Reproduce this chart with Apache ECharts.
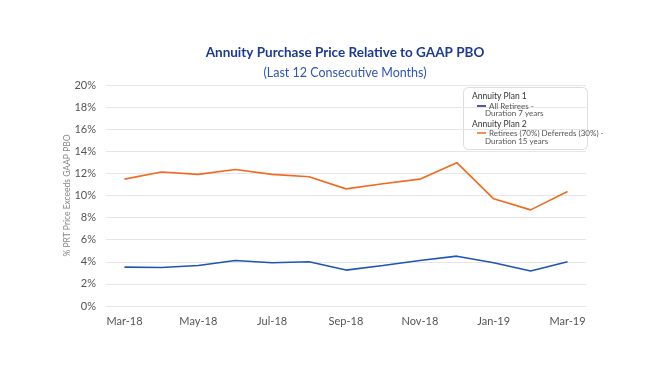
<!DOCTYPE html>
<html><head><meta charset="utf-8">
<script src="https://cdn.jsdelivr.net/npm/echarts@6/dist/echarts.min.js"></script>
<style>html,body{margin:0;padding:0;background:#fff;}#c{width:650px;height:366px;}</style>
</head><body><div id="c"></div>
<script>
const categories = ['Mar-18','Apr-18','May-18','Jun-18','Jul-18','Aug-18','Sep-18','Oct-18','Nov-18','Dec-18','Jan-19','Feb-19','Mar-19'];
const plan1 = [3.52, 3.49, 3.67, 4.12, 3.91, 4.0, 3.25, 3.67, 4.12, 4.51, 3.91, 3.16, 4.0];
const plan2 = [11.48, 12.12, 11.91, 12.36, 11.91, 11.7, 10.6, 11.06, 11.48, 12.97, 9.7, 8.7, 10.36];
const seriesNames = ['All Retirees -', 'Retirees (70%) Deferreds (30%) -'];
const seriesSub = ['Duration 7 years', 'Duration 15 years'];
const groupNames = ['Annuity Plan 1', 'Annuity Plan 2'];
const titleText = 'Annuity Purchase Price Relative to GAAP PBO';
const subText = '(Last 12 Consecutive Months)';
const yName = '% PRT Price Exceeds GAAP PBO';

const chart = echarts.init(document.getElementById('c'), null, {renderer:'canvas'});
const F = 'Lato, "Open Sans", sans-serif';
chart.setOption({
  backgroundColor: '#fff',
  animation: false,
  title: {
    text: titleText, subtext: subText, left: 340, textAlign: 'center', top: 41, itemGap: 6,
    textStyle: {fontFamily: F, fontSize: 13.5, fontWeight: 'bold', color: '#1c3a94'},
    subtextStyle: {fontFamily: F, fontSize: 12.5, color: '#2f56b0'}
  },
  grid: {left: 106, right: 64, top: 85, bottom: 60},
  xAxis: {
    type: 'category', data: categories, boundaryGap: true,
    axisLine: {show: true, lineStyle: {color: '#e6e6e6'}},
    axisTick: {show: false},
    axisLabel: {interval: 1, color: '#555', fontFamily: F, fontSize: 11, margin: 10}
  },
  yAxis: {
    type: 'value', min: 0, max: 20, interval: 2,
    name: yName, nameLocation: 'middle', nameGap: 34, nameRotate: 90, nameMoveOverlap: false,
    nameTextStyle: {color: '#888', fontFamily: F, fontSize: 8.5},
    axisLine: {show: false}, axisTick: {show: false},
    axisLabel: {formatter: '{value}%', color: '#555', fontFamily: F, fontSize: 11, margin: 10},
    splitLine: {lineStyle: {color: '#e6e6e6', width: 1}}
  },
  legend: {
    orient: 'vertical', left: 472, top: 97, itemGap: 19,
    icon: 'rect', itemWidth: 9, itemHeight: 1.5,
    textStyle: {fontFamily: F, fontSize: 8, color: '#555', padding: [0,0,0,-2]},
    data: [{name: seriesNames[0], itemStyle: {color: '#16237a'}}, {name: seriesNames[1], itemStyle: {color: '#f26a21'}}]
  },
  graphic: [
    {type: 'rect', left: 463, top: 87, shape: {width: 124, height: 62, r: 5}, style: {fill: '#fff', stroke: '#ddd', lineWidth: 1}, z: -1},
    {type: 'text', left: 472, top: 92, style: {text: groupNames[0], font: '8.5px ' + F, fill: '#333'}},
    {type: 'text', left: 485, top: 109, style: {text: seriesSub[0], font: '8px ' + F, fill: '#555'}},
    {type: 'text', left: 472, top: 120, style: {text: groupNames[1], font: '8.5px ' + F, fill: '#333'}},
    {type: 'text', left: 485, top: 137, style: {text: seriesSub[1], font: '8px ' + F, fill: '#555'}}
  ],
  series: [
    {name: seriesNames[0], type: 'line', data: plan1, symbol: 'none', lineStyle: {color: '#2055b2', width: 1.6}, itemStyle: {color: '#2055b2'}},
    {name: seriesNames[1], type: 'line', data: plan2, symbol: 'none', lineStyle: {color: '#f26a21', width: 1.6}, itemStyle: {color: '#f26a21'}}
  ]
});
</script></body></html>
